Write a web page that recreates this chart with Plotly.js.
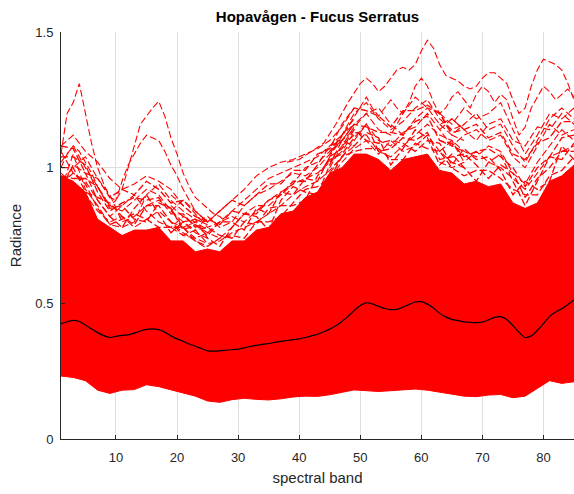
<!DOCTYPE html>
<html>
<head>
<meta charset="utf-8">
<script src="https://cdn.plot.ly/plotly-3.0.1.min.js"></script>
<style>html,body{margin:0;padding:0;background:#fff;}#chart{width:574px;height:494px;}</style>
</head>
<body>
<div id="chart"></div>
<script>
// ---- data ----
const bands = [1,2,3,4,5,6,7,8,9,10,11,12,13,14,15,16,17,18,19,20,21,22,23,24,25,26,27,28,29,30,31,32,33,34,35,36,37,38,39,40,41,42,43,44,45,46,47,48,49,50,51,52,53,54,55,56,57,58,59,60,61,62,63,64,65,66,67,68,69,70,71,72,73,74,75,76,77,78,79,80,81,82,83,84,85];
const meanRadiance = [0.425,0.432,0.437,0.433,0.420,0.405,0.392,0.381,0.374,0.378,0.382,0.384,0.390,0.398,0.404,0.406,0.403,0.394,0.380,0.369,0.360,0.350,0.342,0.333,0.325,0.324,0.325,0.327,0.329,0.331,0.336,0.341,0.345,0.349,0.352,0.356,0.360,0.363,0.366,0.369,0.374,0.380,0.386,0.395,0.405,0.417,0.433,0.452,0.473,0.492,0.502,0.498,0.489,0.481,0.477,0.478,0.486,0.496,0.505,0.506,0.497,0.483,0.463,0.450,0.441,0.436,0.432,0.430,0.429,0.431,0.439,0.448,0.451,0.440,0.418,0.393,0.374,0.380,0.400,0.425,0.452,0.468,0.480,0.496,0.512];

// envelope of the dense bundle of spectra (odd bands)
const oddBands = [1,3,5,7,9,11,13,15,17,19,21,23,25,27,29,31,33,35,37,39,41,43,45,47,49,51,53,55,57,59,61,63,65,67,69,71,73,75,77,79,81,83,85];
const lowerEdge = [0.232,0.227,0.215,0.180,0.168,0.180,0.182,0.200,0.193,0.181,0.170,0.158,0.140,0.135,0.145,0.150,0.146,0.144,0.148,0.155,0.158,0.157,0.163,0.172,0.181,0.178,0.175,0.178,0.182,0.184,0.180,0.172,0.166,0.158,0.156,0.162,0.164,0.152,0.158,0.186,0.215,0.205,0.211];
const denseTop = [0.97,0.95,0.91,0.81,0.78,0.75,0.77,0.77,0.78,0.73,0.73,0.69,0.70,0.69,0.73,0.73,0.77,0.78,0.83,0.84,0.89,0.91,0.98,1.00,1.05,1.05,1.03,0.99,1.03,1.04,1.05,0.99,0.98,0.94,0.95,0.93,0.94,0.87,0.85,0.87,0.95,0.97,1.01];

// spectra just above the dense bundle (odd bands)
const fringe1 = [0.94,0.98,0.94,0.85,0.79,0.81,0.83,0.81,0.78,0.78,0.78,0.73,0.71,0.74,0.75,0.74,0.80,0.80,0.82,0.87,0.92,0.93,0.96,1.04,1.06,1.07,1.07,1.03,1.03,1.09,1.07,1.06,1.00,0.97,0.99,0.99,0.96,0.92,0.90,0.90,0.97,0.99,1.04];
const fringe2 = [1.00,1.00,0.91,0.89,0.87,0.82,0.79,0.86,0.86,0.80,0.75,0.77,0.78,0.75,0.74,0.80,0.79,0.85,0.86,0.86,0.88,0.97,1.03,1.05,1.11,1.16,1.06,1.07,1.11,1.10,1.13,1.03,1.04,1.05,1.01,0.96,1.01,0.98,0.89,0.96,1.00,1.06,1.06];
const fringe3 = [1.04,1.04,1.01,0.91,0.84,0.87,0.89,0.88,0.89,0.83,0.83,0.78,0.81,0.79,0.84,0.83,0.83,0.88,0.90,0.95,0.95,1.01,1.08,1.10,1.16,1.15,1.13,1.13,1.12,1.17,1.19,1.10,1.09,1.04,1.06,1.07,1.04,1.00,0.93,1.00,1.04,1.11,1.12];
const fringe4 = [0.92,1.01,0.98,0.88,0.82,0.78,0.85,0.90,0.83,0.76,0.80,0.81,0.74,0.71,0.78,0.83,0.82,0.77,0.88,0.93,0.91,0.90,1.01,1.10,1.08,1.13,1.11,1.01,1.07,1.14,1.11,1.01,1.05,1.00,0.95,1.02,1.05,0.95,0.86,0.95,1.04,1.03,1.09];
const fringe5 = [1.08,1.07,0.98,0.96,0.89,0.92,0.90,0.95,0.92,0.87,0.88,0.84,0.80,0.84,0.88,0.86,0.90,0.94,0.94,0.99,0.99,1.05,1.07,1.16,1.22,1.21,1.19,1.15,1.21,1.21,1.23,1.20,1.13,1.14,1.16,1.11,1.13,1.05,1.03,1.09,1.11,1.17,1.17];
const fringe6 = [0.97,0.96,0.96,0.93,0.85,0.86,0.81,0.80,0.87,0.85,0.77,0.79,0.75,0.80,0.80,0.77,0.85,0.83,0.91,0.90,0.96,0.95,1.04,1.07,1.14,1.10,1.09,1.10,1.09,1.06,1.10,1.09,1.01,1.07,1.03,1.04,0.99,0.90,0.95,0.92,0.95,1.08,1.03];

// individual spectra visible higher up, per region
const bandsA = [1,3,5,7,9,11,13,15,17,19,21,23,25];
const spectraA = [
  [1.02,1.08,1.00,0.93,0.86,0.84,0.88,0.92,0.90,0.84,0.80,0.76,0.74],
  [0.95,1.00,1.04,0.96,0.90,0.80,0.82,0.86,0.88,0.85,0.78,0.74,0.72],
  [1.06,0.98,0.95,0.88,0.82,0.86,0.90,0.84,0.80,0.78,0.82,0.80,0.77],
  [0.92,1.05,0.92,0.86,0.79,0.78,0.80,0.90,0.94,0.88,0.84,0.81,0.79],
  [0.98,0.94,0.90,0.84,0.80,0.82,0.78,0.81,0.84,0.80,0.76,0.73,0.70],
  [1.08,1.12,1.06,1.02,0.96,0.92,0.94,0.97,0.95,0.92,0.86,0.82,0.80]
];
const bandsB = [19,21,23,25,27,29,31,33,35,37,39,41,43,45,47,49];
const spectraB = [
  [0.90,0.86,0.82,0.80,0.84,0.88,0.92,0.97,1.00,1.02,1.03,1.05,1.07,1.10,1.15,1.22],
  [0.84,0.88,0.83,0.78,0.80,0.84,0.88,0.92,0.96,0.98,1.00,1.02,1.04,1.08,1.12,1.18],
  [0.80,0.78,0.80,0.82,0.78,0.80,0.86,0.90,0.92,0.95,0.98,0.97,1.00,1.05,1.10,1.14],
  [0.78,0.75,0.74,0.76,0.80,0.82,0.80,0.84,0.88,0.91,0.94,0.96,0.98,1.02,1.08,1.12],
  [0.76,0.80,0.77,0.72,0.73,0.76,0.78,0.80,0.83,0.86,0.90,0.93,0.95,0.99,1.04,1.08],
  [0.86,0.82,0.79,0.76,0.74,0.78,0.83,0.86,0.86,0.90,0.94,1.00,1.02,1.06,1.12,1.16]
];
const bandsC = [45,47,49,51,53,55,57,59,61,63,65,67];
const spectraC = [
  [1.05,1.12,1.20,1.24,1.18,1.14,1.17,1.22,1.25,1.18,1.14,1.16],
  [1.00,1.08,1.15,1.20,1.22,1.16,1.12,1.18,1.22,1.20,1.12,1.10],
  [0.98,1.04,1.10,1.16,1.10,1.08,1.13,1.15,1.20,1.14,1.08,1.06],
  [1.02,1.06,1.13,1.12,1.06,1.04,1.08,1.12,1.16,1.12,1.10,1.02],
  [0.96,1.02,1.07,1.10,1.05,1.10,1.06,1.08,1.12,1.06,1.02,1.00],
  [1.06,1.10,1.16,1.20,1.14,1.12,1.20,1.26,1.22,1.16,1.18,1.14]
];
const bandsD = [63,65,67,69,71,73,75,77,79,81,83,85];
const spectraD = [
  [1.20,1.16,1.22,1.18,1.20,1.24,1.14,1.05,1.12,1.20,1.18,1.22],
  [1.14,1.18,1.14,1.10,1.16,1.18,1.10,1.08,1.15,1.14,1.20,1.16],
  [1.10,1.08,1.12,1.14,1.10,1.12,1.04,1.00,1.08,1.16,1.12,1.14],
  [1.06,1.10,1.06,1.04,1.08,1.06,0.98,0.94,1.02,1.08,1.14,1.10],
  [1.02,1.00,1.02,1.06,1.02,1.00,0.96,0.92,0.98,1.04,1.06,1.08],
  [1.16,1.12,1.16,1.20,1.14,1.16,1.08,1.02,1.10,1.18,1.22,1.18]
];
const outlier1Bands = [1,2,3,4,5,6,7,8,9,10,11,12,13,14,15,16,17,18,19,20,21,22,23,24,25,26,27,28];
const outlier1 = [1.05,1.20,1.24,1.31,1.20,1.09,1.00,0.94,0.89,0.88,0.92,1.00,1.08,1.16,1.19,1.22,1.245,1.19,1.11,1.05,0.98,0.93,0.89,0.87,0.85,0.83,0.82,0.80];
const outlier2Bands = [1,2,3,4,5,6,7,8,9,10,11,12,13,14,15,16,17,18,19,20,21,22,23,24,25];
const outlier2 = [1.00,1.05,1.08,1.06,1.02,0.98,0.93,0.89,0.86,0.88,0.95,1.01,1.05,1.09,1.12,1.11,1.10,1.06,1.01,0.97,0.92,0.88,0.84,0.82,0.80];
const outlier3Bands = [38,40,42,44,46,48,50,51,52,53,54,55,56,57,58,59,60,61,62,63,64,65,66,67,68,69,70,71,72,73,74,75,76,77,78,79,80,81,82,83,84,85];
const outlier3 = [1.02,1.03,1.06,1.09,1.16,1.24,1.31,1.33,1.31,1.28,1.30,1.33,1.36,1.37,1.36,1.38,1.43,1.47,1.44,1.38,1.34,1.33,1.32,1.30,1.29,1.30,1.33,1.35,1.35,1.33,1.31,1.25,1.20,1.22,1.30,1.36,1.40,1.39,1.38,1.36,1.31,1.25];
const outlier4Bands = [44,46,48,50,51,52,53,54,55,56,57,58,59,60,61,62,63,64,65,66,67,68,69,70,71,72,73,74,75,76,77,78,79,80,81,82,83,84,85];
const outlier4 = [1.00,1.08,1.15,1.22,1.26,1.22,1.19,1.22,1.25,1.22,1.20,1.24,1.30,1.33,1.30,1.24,1.20,1.22,1.26,1.28,1.25,1.22,1.27,1.30,1.28,1.24,1.27,1.25,1.18,1.12,1.15,1.22,1.26,1.30,1.28,1.25,1.27,1.29,1.26];

// ---- drawing ----
const RED = 'rgb(255,0,0)';
const DASH = '7px,3px';
const traces = [];
traces.push({x: oddBands, y: lowerEdge, mode: 'lines', line: {width: 1, color: RED}, hoverinfo: 'skip'});
traces.push({x: oddBands, y: denseTop, mode: 'lines', fill: 'tonexty', fillcolor: RED, line: {width: 1, color: RED}, hoverinfo: 'skip'});
function addSpectra(xs, list, w) {
  list.forEach(ys => traces.push({x: xs, y: ys, mode: 'lines', line: {width: w, color: RED, dash: DASH}, hoverinfo: 'skip'}));
}
addSpectra(oddBands, [fringe1, fringe2, fringe3, fringe4, fringe5, fringe6], 1.3);
addSpectra(bandsA, spectraA, 1.1);
addSpectra(bandsB, spectraB, 1.1);
addSpectra(bandsC, spectraC, 1.1);
addSpectra(bandsD, spectraD, 1.1);
addSpectra(outlier1Bands, [outlier1], 1.1);
addSpectra(outlier2Bands, [outlier2], 1.1);
addSpectra(outlier3Bands, [outlier3], 1.1);
addSpectra(outlier4Bands, [outlier4], 1.1);
traces.push({x: bands, y: meanRadiance, mode: 'lines', line: {width: 1.2, color: '#000', shape: 'spline', smoothing: 0.6}, hoverinfo: 'skip'});

const FONT = 'Liberation Sans, Arial, Helvetica, sans-serif';
const layout = {
  width: 574, height: 494,
  margin: {l: 61, r: 0, t: 32, b: 55, pad: 0},
  paper_bgcolor: '#fff', plot_bgcolor: '#fff',
  showlegend: false,
  font: {family: FONT, color: '#262626', size: 13},
  title: {text: '<b>Hopavågen - Fucus Serratus</b>', font: {family: FONT, size: 15, color: '#000'},
          xref: 'paper', x: 0.5, xanchor: 'center', yref: 'container', y: 1 - 17/494, yanchor: 'middle'},
  xaxis: {
    range: [1, 85], tickvals: [10,20,30,40,50,60,70,80], ticktext: ['10','20','30','40','50','60','70','80'],
    showgrid: true, gridcolor: '#dfdfdf', gridwidth: 1, zeroline: false,
    showline: true, linecolor: '#262626', linewidth: 1,
    ticks: 'inside', ticklen: 4, tickcolor: '#262626', tickwidth: 1,
    tickfont: {family: FONT, size: 13, color: '#262626'}, ticklabelstandoff: 6,
    title: {text: 'spectral band', font: {family: FONT, size: 15, color: '#262626'}, standoff: 8},
    automargin: false, fixedrange: true
  },
  yaxis: {
    range: [0, 1.5], tickvals: [0, 0.5, 1, 1.5], ticktext: ['0','0.5','1','1.5'],
    showgrid: true, gridcolor: '#dfdfdf', gridwidth: 1, zeroline: false,
    showline: true, linecolor: '#262626', linewidth: 1,
    ticks: 'inside', ticklen: 4, tickcolor: '#262626', tickwidth: 1,
    tickfont: {family: FONT, size: 13, color: '#262626'}, ticklabelstandoff: 4,
    title: {text: 'Radiance', font: {family: FONT, size: 15, color: '#262626'}, standoff: 10},
    automargin: false, fixedrange: true
  }
};
Plotly.newPlot('chart', traces, layout, {staticPlot: true, displayModeBar: false});
</script>
</body>
</html>
